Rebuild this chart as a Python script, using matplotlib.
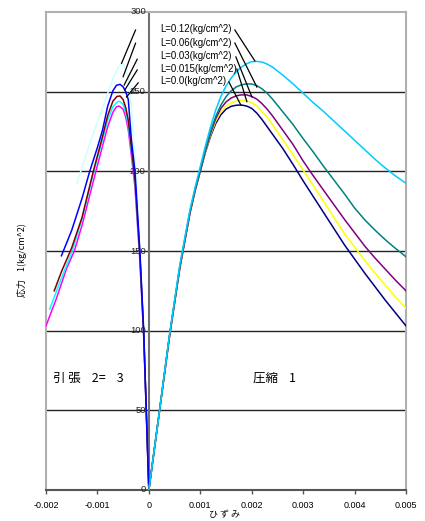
import matplotlib
matplotlib.use("Agg")
import matplotlib.pyplot as plt
import matplotlib.transforms as mtransforms

plt.rcParams['font.family'] = ['Liberation Sans', 'Noto Sans CJK JP', 'DejaVu Sans']

# compression side (strain > 0), one list per L value
comp_x = [0, 0.0002, 0.0004, 0.0006, 0.0008, 0.0009, 0.001, 0.0011, 0.0012, 0.0013,
          0.0014, 0.0015, 0.0016, 0.0017, 0.0018, 0.0019, 0.002, 0.0021, 0.0022,
          0.0023, 0.0024, 0.0026, 0.0028, 0.003, 0.0032, 0.0034, 0.0036, 0.0038,
          0.004, 0.0042, 0.0044, 0.0046, 0.0048, 0.005]
comp_l000 = [0, 48, 96, 139, 174, 188, 200, 212, 222, 230, 235.5, 239, 240.8, 241.5,
             241.6, 241, 239.5, 236.5, 232.5, 228, 223.5, 214.5, 204.5, 194, 184, 174,
             164, 154, 145, 136, 127.5, 119, 111, 103]
comp_l015 = [0, 48, 96, 139, 174, 188, 200.5, 212.5, 223, 231.5, 237.5, 241, 243, 244.2,
             244.6, 244.3, 243, 241, 237.5, 234, 229.5, 220, 210.5, 200.8, 191, 181,
             171, 161, 152.5, 144, 136, 128.5, 121, 114]
comp_l030 = [0, 48, 96, 139, 174, 188, 200.5, 213, 224, 233, 239.5, 243.5, 246, 247.4,
             248, 248, 247, 245.3, 242.5, 239, 235, 226, 217, 206.5, 197, 188, 179, 170,
             161.5, 153, 145.5, 138.5, 131.5, 125]
comp_l060 = [0, 48, 97, 140, 175, 189, 201, 214, 225, 234.5, 241.5, 246.8, 250.5, 253,
             254.3, 254.9, 254.8, 253.8, 251.8, 249, 245.5, 237.5, 229.5, 220.5, 212,
             203, 194.5, 186, 177, 169.5, 163, 157, 151.5, 146.4]
comp_l120 = [0, 48, 97, 141, 176, 190, 203, 216, 228, 238.5, 247, 253.5, 258.5, 262.5,
             265.5, 267.5, 268.8, 269, 268.6, 267.3, 265.5, 260.5, 255, 249, 243, 237.5,
             231.5, 225.5, 219.5, 213.5, 207.5, 202, 197, 192.5]

# tension side (strain < 0)
ten_blue_x = [-0.0017, -0.0015, -0.0013, -0.00115, -0.001, -0.0009, -0.0008, -0.0007,
              -0.00063, -0.00056, -0.0005, -0.00045, -0.0004, -0.00034, -0.00027,
              -0.000175, -0.0001, -0.00005, 0]
ten_blue_y = [147, 163, 183, 200, 215, 226, 241, 250.5, 254, 254.6, 253, 250, 245,
              220, 200, 150, 100, 50, 0]
ten_maroon_x = [-0.00184, -0.0017, -0.0015, -0.0013, -0.00108, -0.0009, -0.0008, -0.0007,
                -0.00062, -0.00056, -0.0005, -0.00045, -0.0004, -0.00034, -0.00027,
                -0.000175, -0.0001, -0.00005, 0]
ten_maroon_y = [125, 137, 152, 171, 200, 222, 235, 244, 247, 247.3, 245, 240, 232, 215,
                195, 148, 98, 50, 0]
ten_cyan_x = [-0.00193, -0.0017, -0.0015, -0.0013, -0.00107, -0.0009, -0.0008, -0.0007,
              -0.00062, -0.00057, -0.0005, -0.00045, -0.0004, -0.00034, -0.00027,
              -0.000175, -0.0001, -0.00005, 0]
ten_cyan_y = [113.4, 133, 149, 170, 200, 220, 232, 240.5, 243.5, 244, 242, 237, 229, 213,
              193, 146, 97, 49, 0]
ten_magenta_x = [-0.002, -0.0018, -0.0016, -0.00145, -0.0013, -0.00103, -0.0009, -0.0008,
                 -0.0007, -0.00063, -0.00058, -0.0005, -0.00045, -0.0004, -0.00034,
                 -0.00027, -0.000175, -0.0001, -0.00005, 0]
ten_magenta_y = [103, 120, 139, 150, 166, 200, 216, 228, 237, 240.5, 241, 239, 234, 226,
                 210, 190, 144, 96, 48, 0]
ten_pale_x = [-0.0014, -0.0011, -0.0009, -0.0007, -0.0006, -0.00051, -0.0004, -0.00034,
              -0.0003, -0.00024, -0.00017, -0.0001, -0.00005, 0]
ten_pale_y = [192.5, 222, 240, 258, 265, 268.5, 259, 241, 220, 195, 148, 100, 50, 0]

labels = ['L=0.12(kg/cm^2)', 'L=0.06(kg/cm^2)', 'L=0.03(kg/cm^2)',
          'L=0.015(kg/cm^2)', 'L=0.0(kg/cm^2)']
label_y = [289.3, 280.5, 272.4, 264.2, 256.7]
lead_r_start = [(0.001672, 288.7), (0.001672, 280.5), (0.001692, 271.8),
                (0.001711, 264.2), (0.001556, 256.1)]
lead_r_end = [(0.002061, 269.3), (0.0021, 252.9), (0.002003, 246.7),
              (0.001906, 243.7), (0.001789, 241.6)]
lead_l_start = [(-0.000259, 288.7), (-0.000259, 280.4), (-0.000227, 270.3),
                (-0.000227, 263.6), (-0.000208, 255.5)]
lead_l_end = [(-0.000531, 267.8), (-0.0005, 259.4), (-0.00048, 254.2),
              (-0.000467, 251.1), (-0.000434, 246.7)]

xticks = [-0.002, -0.001, 0, 0.001, 0.002, 0.003, 0.004, 0.005]
xtick_labels = ['-0.002', '-0.001', '0', '0.001', '0.002', '0.003', '0.004', '0.005']
yticks = [0, 50, 100, 150, 200, 250, 300]

fig = plt.figure(figsize=(4.25, 5.21), dpi=100)
ax = fig.add_axes([46/425, 31/521, 360/425, 478/521])
ax.set_xlim(-0.002, 0.005)
ax.set_ylim(0, 300)

for y in yticks[1:-1]:
    ax.axhline(y, color='#222222', lw=1.0, zorder=1)
ax.axvline(0, color='#707070', lw=1.5, zorder=1)

lw = 1.1
ax.plot(ten_pale_x, ten_pale_y, color='#ccffff', lw=lw, zorder=2)
ax.plot(ten_magenta_x, ten_magenta_y, color='#ff00ff', lw=lw, zorder=3)
ax.plot(ten_cyan_x, ten_cyan_y, color='#00ffff', lw=lw, zorder=3)
ax.plot(ten_maroon_x, ten_maroon_y, color='#800000', lw=lw, zorder=3)
ax.plot(ten_blue_x, ten_blue_y, color='#0000ff', lw=lw, zorder=3)

ax.plot(comp_x, comp_l000, color='#000080', lw=lw, zorder=3)
ax.plot(comp_x, comp_l015, color='#ffff00', lw=lw, zorder=3)
ax.plot(comp_x, comp_l030, color='#800080', lw=lw, zorder=3)
ax.plot(comp_x, comp_l060, color='#008080', lw=lw, zorder=3)
ax.plot(comp_x, comp_l120, color='#00ccff', lw=lw, zorder=3)

for s, e in zip(lead_r_start, lead_r_end):
    ax.plot([s[0], e[0]], [s[1], e[1]], color='black', lw=0.9, zorder=4)
for s, e in zip(lead_l_start, lead_l_end):
    ax.plot([s[0], e[0]], [s[1], e[1]], color='black', lw=0.9, zorder=4)
for t, y in zip(labels, label_y):
    ax.text(0.000228, y, t, fontsize=6.9, va='center', ha='left', zorder=5)

# y tick labels sit on the x=0 line
off = mtransforms.offset_copy(ax.transData, fig=fig, x=-3, y=0, units='dots')
for y in yticks:
    ax.text(0, y, str(y), transform=off, fontsize=6.8, ha='right', va='center',
            color='#222222')

ax.set_yticks([])
ax.set_xticks(xticks)
ax.set_xticklabels(xtick_labels, fontsize=6.5)
ax.tick_params(axis='x', length=3, width=1, color='#555555', pad=5)

for side in ['left', 'right', 'top']:
    ax.spines[side].set_color('#b0b0b0')
    ax.spines[side].set_linewidth(1.5)
ax.spines['bottom'].set_color('#555555')
ax.spines['bottom'].set_linewidth(1.5)

ax.text(-0.001867, 70.3, '引 張    2=    3', fontsize=9, va='center',
        family=['Noto Sans CJK JP', 'DejaVu Sans'])
ax.text(0.00202, 70.3, '圧縮    1', fontsize=9, va='center',
        family=['Noto Sans CJK JP', 'DejaVu Sans'])

fig.text(22/425, 1 - 260/521, '応力    1(kg/cm^2)', rotation=90, fontsize=6.5,
         ha='center', va='center', family=['Noto Sans CJK JP', 'DejaVu Sans'])
fig.text(224/425, 1 - 515/521, 'ひ ず み', fontsize=6.5, ha='center', va='center',
         family=['Noto Sans CJK JP', 'DejaVu Sans'])

fig.savefig('out.png', dpi=100)
